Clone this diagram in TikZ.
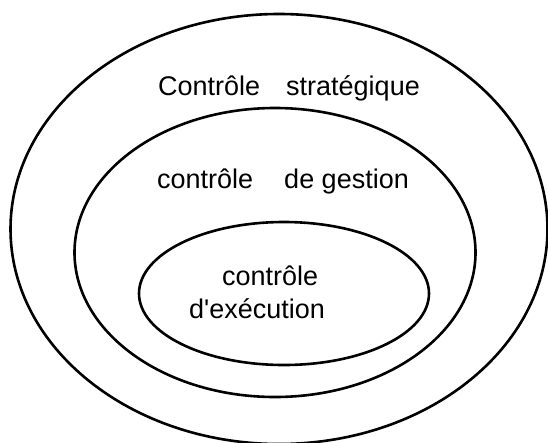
\documentclass[tikz,border=0pt]{standalone}
\usepackage{fontspec}
\setmainfont{Liberation Sans}
\usetikzlibrary{shapes.geometric}
\begin{document}
\begin{tikzpicture}[x=1pt,y=-1pt,
  level/.style={draw=black,line width=2.6pt,ellipse,inner sep=0pt,fill=none},
  label/.style={font=\fontsize{27}{32}\selectfont,inner sep=0pt,anchor=base west}]
  \useasboundingbox (0,0) rectangle (548,442);
  % three nested levels of control
  \node[level,minimum width=537pt,minimum height=430pt] (strat) at (279,229) {};
  \node[level,minimum width=401pt,minimum height=289pt] (gest) at (275,252.5) {};
  \node[level,minimum width=290pt,minimum height=143pt] (exec) at (284,293.5) {};
  % level names
  \node[label] (tstrat) at (158,95) {Contrôle\hspace{26pt}stratégique};
  \node[label] (tgest) at (157,188) {contrôle\hspace{31pt}de gestion};
  \node[label] (texec1) at (222,285) {contrôle};
  \node[label] (texec2) at (189,318) {d\textquotesingle exécution};
\end{tikzpicture}
\end{document}
